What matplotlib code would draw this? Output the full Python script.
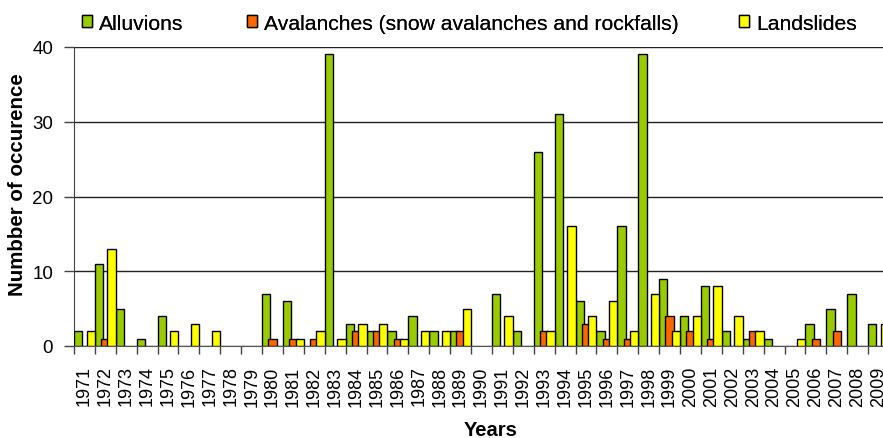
import numpy as np
import matplotlib.pyplot as plt
from matplotlib.ticker import FixedLocator, NullFormatter

plt.rcParams['font.family'] = ['Liberation Sans', 'DejaVu Sans']

years = list(range(1971, 2010))
alluvions = [2, 11, 5, 1, 4, 0, 0, 0, 0, 7, 6, 0, 39, 3, 2, 2, 4, 2, 2, 0,
             7, 2, 26, 31, 6, 2, 16, 39, 9, 4, 8, 2, 1, 1, 0, 3, 5, 7, 3]
avalanches = [0, 1, 0, 0, 0, 0, 0, 0, 0, 1, 1, 1, 0, 2, 2, 1, 0, 0, 2, 0,
              0, 0, 2, 0, 3, 1, 1, 0, 4, 2, 1, 0, 2, 0, 0, 1, 2, 0, 0]
landslides = [2, 13, 0, 0, 2, 3, 2, 0, 0, 0, 1, 2, 1, 3, 3, 1, 2, 2, 5, 0,
              4, 0, 2, 16, 4, 6, 2, 7, 2, 4, 8, 4, 2, 0, 1, 0, 0, 0, 3]

series = [
    ('Alluvions', alluvions, '#99CC00', -0.3),
    ('Avalanches (snow avalanches and rockfalls)', avalanches, '#FF6600', 0.0),
    ('Landslides', landslides, '#FFFF00', 0.3),
]
# left edge of each legend entry, in pixels
legend_x = [82, 247, 739]

fig = plt.figure(figsize=(8.83, 4.39), dpi=100)
# plot area runs slightly past the right edge of the figure
ax = fig.add_axes([74 / 883, 1 - 347 / 439, 815 / 883, 299 / 439])

x = np.array(years, dtype=float)
handles = []
for name, vals, color, off in series:
    v = np.array(vals, dtype=float)
    keep = v > 0
    h = ax.bar(x[keep] + off, v[keep], width=0.4, color=color,
               edgecolor='black', linewidth=1.0, label=name, zorder=3)
    handles.append(h)

ax.set_xlim(1970.5, 2009.5)
ax.set_ylim(0, 40)
ax.set_yticks([0, 10, 20, 30, 40])
ax.yaxis.grid(True, color='#222222', linewidth=1.0)
ax.set_axisbelow(True)

# category axis: labels at centers, tick marks at boundaries
ax.set_xticks(years)
ax.set_xticklabels([str(y) for y in years], rotation=90, fontsize=13)
ax.xaxis.set_minor_locator(FixedLocator(np.arange(1970.5, 2010, 1.0)))
ax.xaxis.set_minor_formatter(NullFormatter())
ax.tick_params(axis='x', which='major', length=0, pad=14)
ax.tick_params(axis='x', which='minor', length=6, width=1, color='#444444')
ax.tick_params(axis='y', length=7, width=1, color='#444444', labelsize=13.5, pad=8)

for s in ['top', 'right']:
    ax.spines[s].set_visible(False)
ax.spines['left'].set_color('#444444')
ax.spines['bottom'].set_color('#555555')

ax.set_ylabel('Numbber of occurence', fontsize=14.8, fontweight='bold')
ax.yaxis.set_label_coords((27 - 74) / 815, 0.542)
ax.set_xlabel('Years', fontsize=14.5, fontweight='bold')
ax.xaxis.set_label_coords((491 - 74) / 815, -0.248)

for h, lx in zip(handles, legend_x):
    leg = fig.legend(handles=[h], loc='center left',
                     bbox_to_anchor=(lx / 883, 1 - 24 / 439), frameon=False,
                     fontsize=15.2, handlelength=0.45, handleheight=0.45,
                     handletextpad=0.35, borderaxespad=0, borderpad=0)
    fig.add_artist(leg)

fig.savefig('out.png', dpi=100)
